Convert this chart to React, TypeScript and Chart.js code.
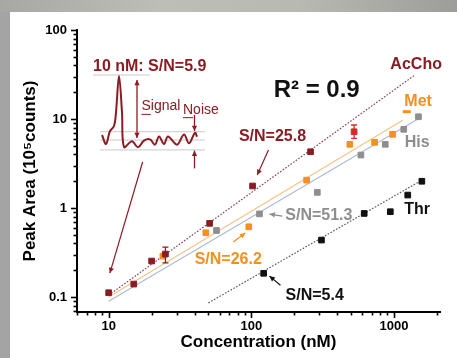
import React, { useEffect, useRef } from 'react';
import { Chart, registerables } from 'chart.js';

Chart.register(...registerables);

const FONT = '"Liberation Sans", Arial, Helvetica, sans-serif';
const MAROON = '#8b1c24';
const ORANGE = '#f39020';
const GRAY = '#8e8e8e';
const BLACK = '#111111';
const RED = '#d8282c';

// ---------------- data (concentration nM, peak area 10^5 counts) ----------------
const acchoConc = [10, 15, 20, 25, 51, 102, 260];
const acchoArea = [0.112, 0.14, 0.254, 0.304, 0.673, 1.77, 4.29];
const acchoRepConc = [525];
const acchoRepArea = [7.2];
const metConc = [24, 48, 96, 244, 490, 731, 977, 1228];
const metArea = [0.289, 0.528, 0.616, 2.06, 5.2, 5.47, 6.73, 12.1];
const hisConc = [57, 114, 290, 586, 868, 1170, 1483];
const hisArea = [0.56, 0.86, 1.5, 3.94, 5.2, 7.66, 10.6];
const thrConc = [122, 310, 618, 942, 1248, 1567];
const thrArea = [0.185, 0.437, 0.87, 0.91, 1.4, 2.0];

const errConc = [25, 525];
const errLow = [0.242, 6.07];
const errHigh = [0.364, 8.57];

// fitted lines (end points)
const acchoFitConc = [10, 1380];
const acchoFitArea = [0.105, 30.7];
const metFitConc = [10, 1150];
const metFitArea = [0.1, 9.7];
const hisFitConc = [10, 1500];
const hisFitArea = [0.09, 10.2];
const thrFitConc = [50, 1570];
const thrFitArea = [0.086, 2.06];

const xTickValues = [10, 100, 1000];
const yTickValues = [0.1, 1, 10, 100];

// inset chromatogram (time, signal)
const traceTime = [2.8, 3.6, 4.4, 5.2, 5.6, 6.2, 6.8, 7.2, 8.8, 10, 11.2, 12.4, 13.4, 14.2, 15.2, 16, 17.8, 19.2, 20.2, 21.4, 21.8];
const traceSignal = [10.6, -3, 16.7, 24.2, 45, 100, 45, -7.6, 1, -8, 2, 4, -4, 8.5, -3, 8.5, -4, 11.5, -2, 14, 8];
const peakLevel = 101.5;
const noiseTop = 15.6;
const baseLevel = 3;
const noiseBottom = -12;

const zip = (xs: number[], ys: number[]) => xs.map((x, i) => ({ x, y: ys[i] }));

function drawArrow(ctx: CanvasRenderingContext2D, x1: number, y1: number, x2: number, y2: number,
  color: string, width: number, head: number, both = false) {
  ctx.strokeStyle = color;
  ctx.fillStyle = color;
  ctx.lineWidth = width;
  ctx.beginPath();
  ctx.moveTo(x1, y1);
  ctx.lineTo(x2, y2);
  ctx.stroke();
  const tip = (xa: number, ya: number, xb: number, yb: number) => {
    const a = Math.atan2(yb - ya, xb - xa);
    ctx.beginPath();
    ctx.moveTo(xb, yb);
    ctx.lineTo(xb - head * Math.cos(a - 0.45), yb - head * Math.sin(a - 0.45));
    ctx.lineTo(xb - head * Math.cos(a + 0.45), yb - head * Math.sin(a + 0.45));
    ctx.closePath();
    ctx.fill();
  };
  tip(x1, y1, x2, y2);
  if (both) tip(x2, y2, x1, y1);
}

const annotationTexts = [
  { text: 'R\u00B2 = 0.9', x: 287, y: 21.2, color: BLACK, size: 24, align: 'center' },
  { text: 'AcCho', x: 1429, y: 40.4, color: MAROON, size: 16, align: 'center' },
  { text: 'Met', x: 1476, y: 15.5, color: ORANGE, size: 16, align: 'center' },
  { text: 'His', x: 1452, y: 5.37, color: GRAY, size: 16, align: 'center' },
  { text: 'Thr', x: 1452, y: 0.95, color: BLACK, size: 16, align: 'center' },
  { text: 'S/N=25.8', x: 140.6, y: 6.28, color: MAROON, size: 16, align: 'center' },
  { text: 'S/N=26.2', x: 68.9, y: 0.267, color: ORANGE, size: 16, align: 'center' },
  { text: 'S/N=51.3', x: 173, y: 0.813, color: GRAY, size: 16, align: 'left' },
  { text: 'S/N=5.4', x: 278, y: 0.105, color: BLACK, size: 16, align: 'center' },
];

const annotationArrows = [
  { from: [17.3, 3.29], to: [10.2, 0.186], color: MAROON },
  { from: [131.8, 4.48], to: [110, 2.35], color: MAROON },
  { from: [74.6, 0.415], to: [90.8, 0.524], color: ORANGE },
  { from: [165, 0.813], to: [134, 0.856], color: GRAY },
  { from: [160, 0.136], to: [134, 0.172], color: BLACK },
];

const backgroundPlugin = {
  id: 'slideBackground',
  beforeDraw(chart: any) {
    const { ctx, width, height } = chart;
    ctx.save();
    ctx.fillStyle = '#ffffff';
    ctx.fillRect(0, 0, width, height);
    const g = ctx.createLinearGradient(0, 0, width, 0);
    g.addColorStop(0, '#a7a7a3');
    g.addColorStop(0.35, '#bebeb9');
    g.addColorStop(0.65, '#b9b9b4');
    g.addColorStop(1, '#9d9d99');
    ctx.fillStyle = g;
    ctx.fillRect(0, 0, width, 12);
    ctx.fillStyle = '#a4a4a4';
    ctx.fillRect(0, 12, 10, height - 12);
    ctx.restore();
  },
};

const axisTicksPlugin = {
  id: 'axisTicks',
  afterDraw(chart: any) {
    const { ctx, chartArea, scales } = chart;
    const xs = scales.x;
    const ys = scales.y;
    ctx.save();
    ctx.strokeStyle = '#000';
    ctx.lineWidth = 1.6;
    for (let e = 0; e <= 3; e++) {
      for (let m = 1; m <= 9; m++) {
        const v = m * Math.pow(10, e);
        if (v < xs.min || v > xs.max) continue;
        const p = Math.round(xs.getPixelForValue(v)) + 0.5;
        const len = m === 1 ? 6 : 3.5;
        ctx.beginPath();
        ctx.moveTo(p, chartArea.bottom);
        ctx.lineTo(p, chartArea.bottom + len);
        ctx.stroke();
      }
    }
    for (let e = -2; e <= 2; e++) {
      for (let m = 1; m <= 9; m++) {
        const v = m * Math.pow(10, e);
        if (v < ys.min * 0.999 || v > ys.max * 1.001) continue;
        const p = Math.round(ys.getPixelForValue(v)) + 0.5;
        const len = m === 1 ? 6 : 3.5;
        ctx.beginPath();
        ctx.moveTo(chartArea.left, p);
        ctx.lineTo(chartArea.left - len, p);
        ctx.stroke();
      }
    }
    ctx.restore();
  },
};

const errorBarPlugin = {
  id: 'errorBars',
  afterDatasetsDraw(chart: any) {
    const { ctx, scales } = chart;
    const colors = [MAROON, RED];
    ctx.save();
    errConc.forEach((c, i) => {
      const x = scales.x.getPixelForValue(c);
      const y1 = scales.y.getPixelForValue(errLow[i]);
      const y2 = scales.y.getPixelForValue(errHigh[i]);
      ctx.strokeStyle = colors[i];
      ctx.lineWidth = 1.3;
      ctx.beginPath();
      ctx.moveTo(x, y1); ctx.lineTo(x, y2);
      ctx.moveTo(x - 3, y1); ctx.lineTo(x + 3, y1);
      ctx.moveTo(x - 3, y2); ctx.lineTo(x + 3, y2);
      ctx.stroke();
    });
    ctx.restore();
  },
};

const annotationPlugin = {
  id: 'annotations',
  afterDraw(chart: any) {
    const { ctx, scales } = chart;
    const px = (v: number) => scales.x.getPixelForValue(v);
    const py = (v: number) => scales.y.getPixelForValue(v);
    ctx.save();
    annotationArrows.forEach((a) => {
      drawArrow(ctx, px(a.from[0]), py(a.from[1]), px(a.to[0]), py(a.to[1]), a.color, 1.2, 6);
    });
    ctx.textBaseline = 'middle';
    annotationTexts.forEach((t) => {
      ctx.font = `bold ${t.size}px ${FONT}`;
      ctx.fillStyle = t.color;
      ctx.textAlign = t.align as CanvasTextAlign;
      ctx.fillText(t.text, px(t.x), py(t.y));
    });
    ctx.restore();
  },
};

const insetPlugin = {
  id: 'insetDecor',
  afterDatasetsDraw(chart: any) {
    const { ctx, scales } = chart;
    const px = (v: number) => scales.x.getPixelForValue(v);
    const py = (v: number) => scales.y.getPixelForValue(v);
    ctx.save();
    // signal arrow
    drawArrow(ctx, px(9.8), py(94), px(9.8), py(6), MAROON, 1.3, 6, true);
    // noise arrows
    drawArrow(ctx, px(21.3), py(41), px(21.3), py(noiseTop + 1), MAROON, 1.3, 6);
    drawArrow(ctx, px(21.3), py(-40), px(21.3), py(noiseBottom - 1), MAROON, 1.3, 6);
    ctx.fillStyle = MAROON;
    ctx.textBaseline = 'middle';
    ctx.textAlign = 'left';
    ctx.font = `bold 16px ${FONT}`;
    ctx.fillText('10 nM: S/N=5.9', px(1), py(115));
    ctx.font = `14px ${FONT}`;
    const sx = px(10.7);
    const sy = py(54);
    ctx.fillText('Signal', sx, sy);
    const wS = ctx.measureText('S').width;
    const nx = px(19);
    const ny = py(49);
    ctx.fillText('Noise', nx, ny);
    const wN = ctx.measureText('N').width;
    ctx.strokeStyle = MAROON;
    ctx.lineWidth = 1;
    ctx.beginPath();
    ctx.moveTo(sx, sy + 8); ctx.lineTo(sx + wS, sy + 8);
    ctx.moveTo(nx, ny + 8); ctx.lineTo(nx + wN, ny + 8);
    ctx.stroke();
    ctx.restore();
  },
};

export default function App() {
  const mainRef = useRef<HTMLCanvasElement>(null);
  const insetRef = useRef<HTMLCanvasElement>(null);

  useEffect(() => {
    const pointSet = (label: string, xs: number[], ys: number[], color: string, extra: any = {}) => ({
      label,
      data: zip(xs, ys),
      backgroundColor: color,
      borderColor: color,
      pointStyle: 'rect',
      pointRadius: 4,
      pointBorderWidth: 1,
      showLine: false,
      order: 1,
      ...extra,
    });
    const fitSet = (label: string, xs: number[], ys: number[], color: string, dash: number[], width: number) => ({
      label,
      data: zip(xs, ys),
      borderColor: color,
      backgroundColor: color,
      borderWidth: width,
      borderDash: dash,
      pointRadius: 0,
      showLine: true,
      order: 10,
    });

    const main = new Chart(mainRef.current as HTMLCanvasElement, {
      type: 'scatter',
      data: {
        datasets: [
          fitSet('AcCho fit', acchoFitConc, acchoFitArea, '#86445e', [1.6, 1.6], 1.2),
          fitSet('Met fit', metFitConc, metFitArea, '#f6c386', [], 1.1),
          fitSet('His fit', hisFitConc, hisFitArea, '#a9bbd4', [], 1.1),
          fitSet('Thr fit', thrFitConc, thrFitArea, '#5a5a5a', [1.6, 1.6], 1.2),
          pointSet('AcCho', acchoConc, acchoArea, MAROON),
          pointSet('AcCho replicate', acchoRepConc, acchoRepArea, RED),
          pointSet('Met', metConc, metArea, ORANGE, {
            pointStyle: metConc.map((_, i) => (i === metConc.length - 1 ? 'line' : 'rect')),
            pointBorderWidth: metConc.map((_, i) => (i === metConc.length - 1 ? 3 : 1)),
          }),
          pointSet('His', hisConc, hisArea, GRAY),
          pointSet('Thr', thrConc, thrArea, BLACK),
        ],
      },
      options: {
        responsive: false,
        animation: false,
        devicePixelRatio: 1,
        layout: { padding: { left: 0, top: 30, right: 17, bottom: 0 } },
        plugins: { legend: { display: false }, tooltip: { enabled: false } },
        scales: {
          x: {
            type: 'logarithmic',
            position: 'bottom',
            min: 6,
            max: 2100,
            afterFit: (s: any) => { s.height = 46; },
            afterBuildTicks: (s: any) => { s.ticks = xTickValues.map((v) => ({ value: v })); },
            grid: { display: false, drawTicks: false },
            border: { display: true, color: '#000', width: 2 },
            ticks: {
              autoSkip: false, maxRotation: 0, padding: 7, color: '#000',
              font: { family: FONT, size: 13, weight: 'bold' },
              callback: (v: any) => String(v),
            },
            title: {
              display: true, text: 'Concentration (nM)', color: '#000',
              font: { family: FONT, size: 17, weight: 'bold' },
              padding: { top: 0, bottom: 5 },
            },
          },
          y: {
            type: 'logarithmic',
            position: 'left',
            min: 0.068,
            max: 100,
            afterFit: (s: any) => { s.width = 77; },
            afterBuildTicks: (s: any) => { s.ticks = yTickValues.map((v) => ({ value: v })); },
            grid: { display: false, drawTicks: false },
            border: { display: true, color: '#000', width: 2 },
            ticks: {
              autoSkip: false, padding: 10, color: '#000',
              font: { family: FONT, size: 13, weight: 'bold' },
              callback: (v: any) => String(v),
            },
            title: {
              display: true, text: 'Peak Area (10\u2075counts)', color: '#000',
              font: { family: FONT, size: 17, weight: 'bold' },
              padding: { top: 20, bottom: 0 },
            },
          },
        },
      } as any,
      plugins: [backgroundPlugin, axisTicksPlugin, errorBarPlugin, annotationPlugin],
    });

    const refLine = (y: number, x0: number, x1: number) => ({
      data: [{ x: x0, y }, { x: x1, y }],
      borderColor: '#c9c9c9',
      borderWidth: 1,
      pointRadius: 0,
      order: 5,
    });

    const inset = new Chart(insetRef.current as HTMLCanvasElement, {
      type: 'line',
      data: {
        datasets: [
          {
            label: 'trace',
            data: zip(traceTime, traceSignal),
            borderColor: MAROON,
            borderWidth: 2,
            pointRadius: 0,
            tension: 0.35,
            order: 1,
          },
          refLine(peakLevel, 1, 12.4),
          refLine(noiseTop, 2.4, 23.4),
          refLine(baseLevel, 2.4, 23.4),
          refLine(noiseBottom, 2.4, 23.4),
        ],
      },
      options: {
        responsive: false,
        animation: false,
        devicePixelRatio: 1,
        layout: { padding: 0 },
        plugins: { legend: { display: false }, tooltip: { enabled: false } },
        scales: {
          x: { type: 'linear', min: 0, max: 28, display: false },
          y: { type: 'linear', min: -50, max: 139.4, display: false },
        },
      } as any,
      plugins: [insetPlugin],
    });

    return () => {
      main.destroy();
      inset.destroy();
    };
  }, []);

  return (
    <div style={{ position: 'fixed', left: 0, top: 0, width: 457, height: 358, overflow: 'hidden', background: '#fff' }}>
      <canvas ref={mainRef} width={457} height={358} style={{ position: 'absolute', left: 0, top: 0 }} />
      <canvas ref={insetRef} width={140} height={125} style={{ position: 'absolute', left: 88, top: 50 }} />
    </div>
  );
}
